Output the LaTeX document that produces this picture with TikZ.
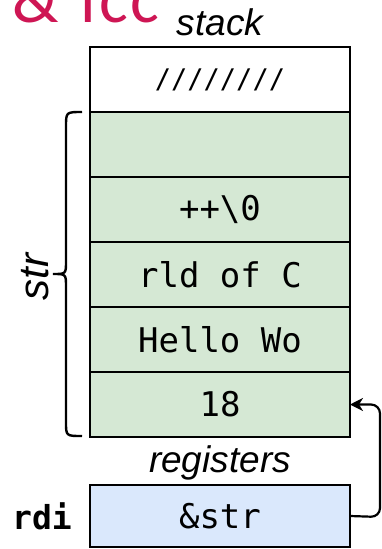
\documentclass[tikz,border=0pt]{standalone}
\usepackage{fontspec}
\setmainfont{Liberation Sans}
\newfontfamily\monof{DejaVu Sans Mono}
\newfontfamily\titlef{Carlito}
\definecolor{cellgreen}{HTML}{D5E8D4}
\definecolor{cellblue}{HTML}{DAE8FC}
\definecolor{titlered}{RGB}{206,22,84}
\usetikzlibrary{arrows.meta}
\tikzset{
  cell/.style={draw=black, line width=2.6pt, minimum width=260pt, minimum height=65pt, inner sep=0pt, outer sep=0pt, font=\monof\fontsize{34}{37}\selectfont},
  greencell/.style={cell, fill=cellgreen},
  bluecell/.style={cell, fill=cellblue, minimum height=62pt},
  whitecell/.style={cell, fill=white},
  lbl/.style={font=\itshape\fontsize{37}{40}\selectfont, inner sep=0pt},
  conn/.style={line width=2.2pt, -{Stealth[length=13pt,width=13pt,inset=4pt]}, rounded corners=9pt},
}
\begin{document}
\begin{tikzpicture}[x=1pt,y=-1pt]
\useasboundingbox (0,0) rectangle (382,549);
\clip (0,0) rectangle (382,549);
\node[anchor=base west, inner sep=0pt, text=titlered, font=\titlef\fontsize{68}{72}\selectfont] (title) at (12,22) {\&\hspace{22pt}i\hspace{3pt}c\hspace{3pt}c};
\node[lbl, anchor=base] (stacklbl) at (220,35) {stack};
\node[whitecell] (c0) at (220,79.5) {\fontsize{27}{30}\selectfont////////};
\node[greencell] (c1) at (220,144.5) {};
\node[greencell] (c2) at (220,209.5) {++\textbackslash0};
\node[greencell] (c3) at (220,274.5) {rld of C};
\node[greencell] (c4) at (220,339.5) {Hello Wo};
\node[greencell] (c5) at (220,404.5) {18};
\node[lbl, anchor=base] (reglbl) at (220,472) {registers};
\node[bluecell] (rdi) at (220,516) {\&str};
\node[inner sep=0pt, font=\monof\bfseries\fontsize{33}{36}\selectfont] (rdilbl) at (42,516) {rdi};
\draw[line width=2.4pt] (82,112) .. controls (66,112) .. (66,127) -- (66,261) .. controls (66,274) .. (53,274) .. controls (66,274) .. (66,287) -- (66,422) .. controls (66,436) .. (82,436);
\node[lbl, rotate=90, font=\itshape\fontsize{42}{45}\selectfont] (strlbl) at (35,277) {str};
\coordinate (turn1) at (380,517);
\coordinate (turn2) at (380,404.5);
\draw[conn] (rdi.east) -- (turn1) -- (turn2) -- (c5.east);
\end{tikzpicture}
\end{document}
